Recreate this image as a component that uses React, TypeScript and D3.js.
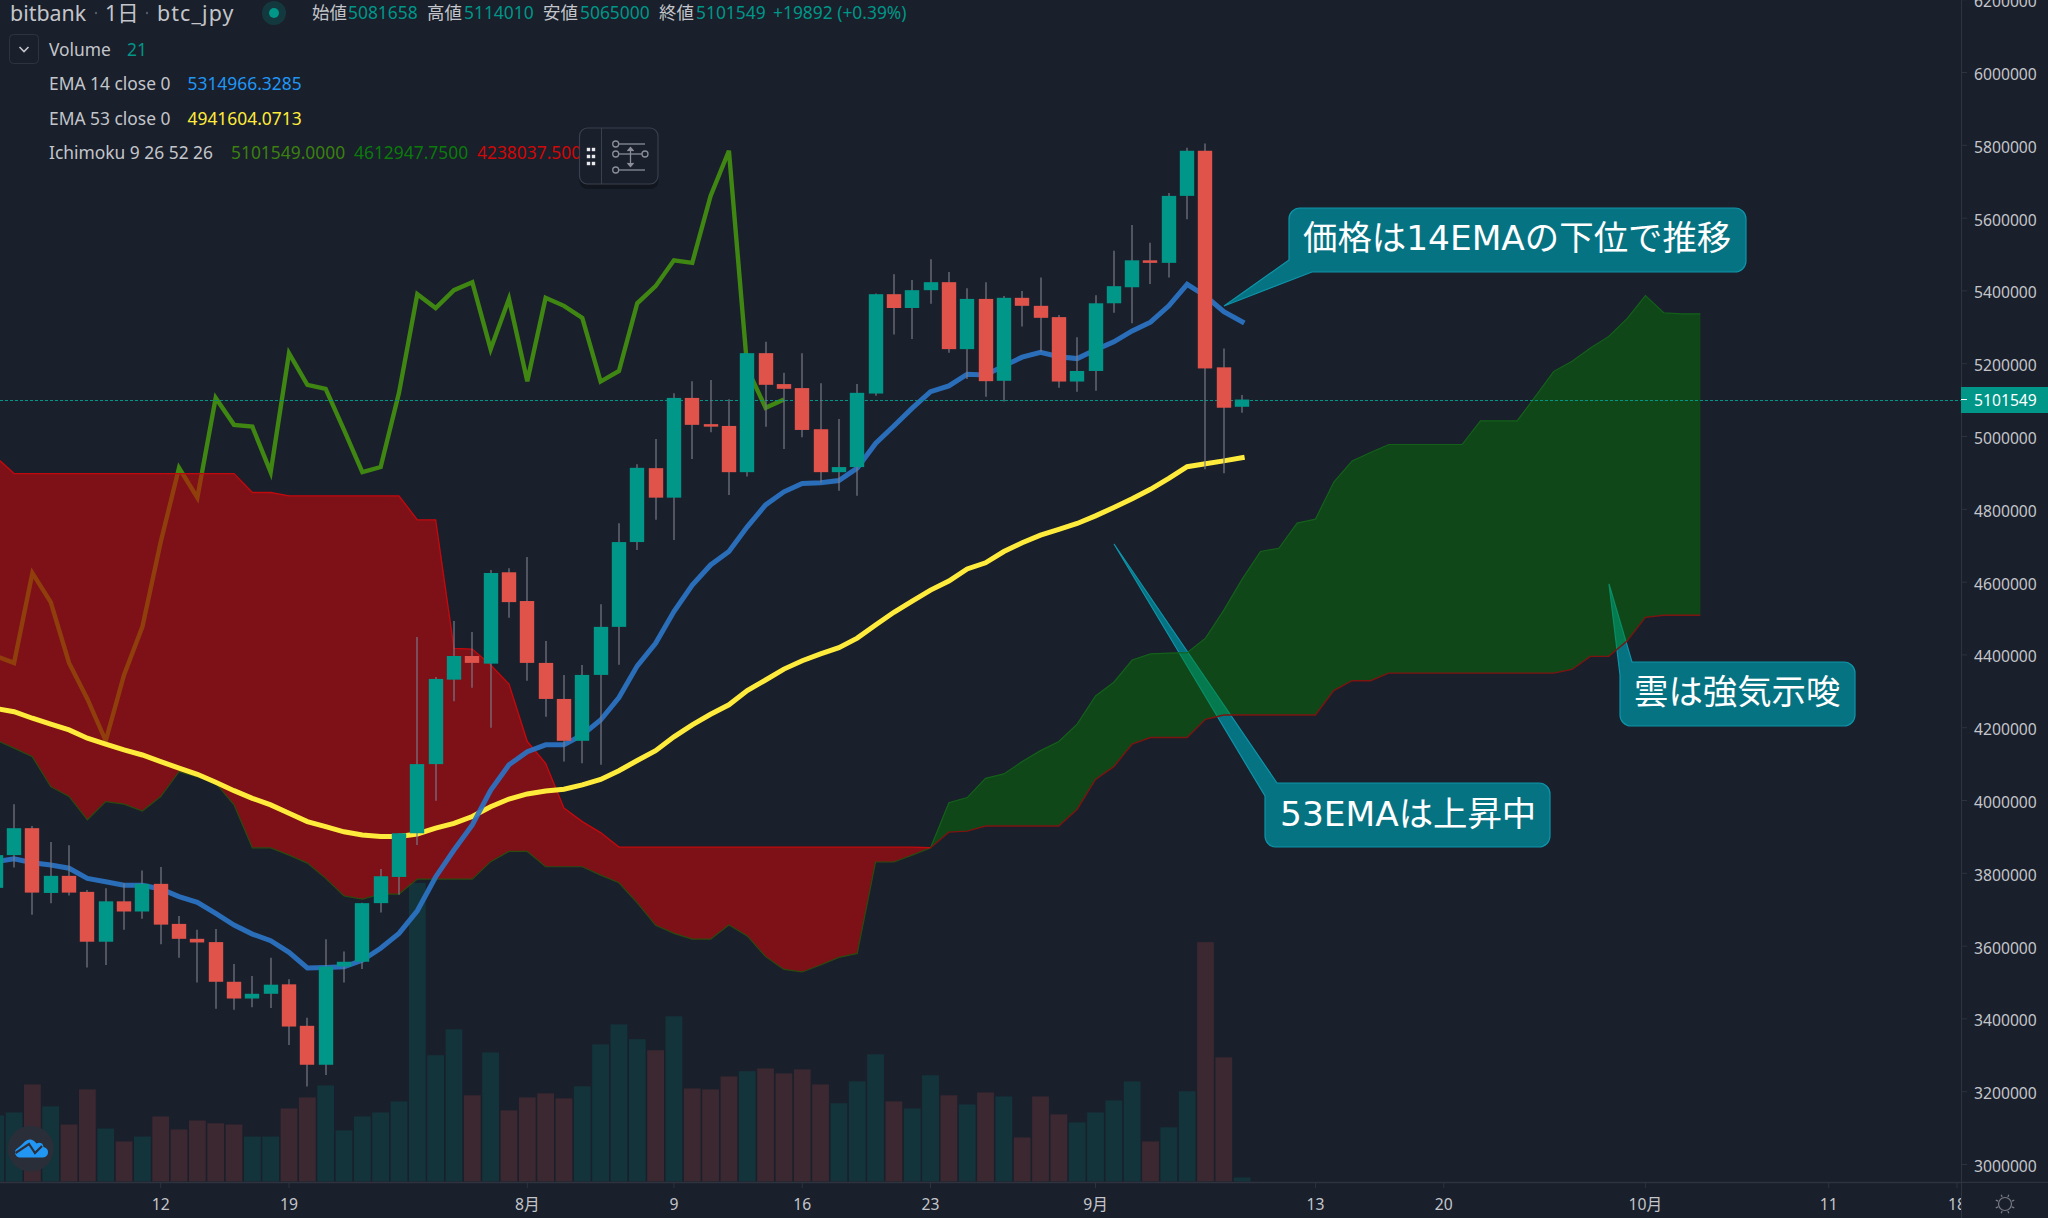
import * as d3 from "d3";

const WIDTH = 2048;
const HEIGHT = 1218;
const AXIS_X = 1961;
const AXIS_Y = 1183;
const BG = "#191f2b";
const UI_FONT = "'Noto Sans', 'Noto Sans CJK JP', sans-serif";
const NOTE_FONT = "'DejaVu Sans', 'Noto Sans CJK JP', sans-serif";

// prices are in thousand JPY, days are counted from 12 Jul 2020
const FIRST_DAY = -9;

const opens = [
  3760, 3850, 3924, 3746, 3793, 3749, 3612, 3723, 3695, 3771, 3661, 3620, 3611, 3502, 3456, 3469, 3495, 3381, 3274,
  3544, 3557, 3718, 3790, 3910, 4100, 4332, 4397, 4376, 4627, 4548, 4378, 4279, 4164, 4345, 4477, 4710, 4913, 4832,
  5106, 5034, 5029, 4902, 5229, 5144, 5133, 5020, 4902, 4916, 5118, 5391, 5353, 5402, 5424, 5240, 5378, 5153, 5381,
  5359, 5328, 5151, 5180, 5366, 5410, 5484, 5477, 5661, 5785, 5190, 5081.658,
];
const highs = [
  3878, 3990, 3930, 3886, 3877, 3754, 3759, 3773, 3808, 3817, 3683, 3645, 3647, 3551, 3518, 3568, 3509, 3403, 3619,
  3585, 3719, 3812, 3911, 4449, 4339, 4493, 4463, 4633, 4638, 4669, 4438, 4345, 4372, 4539, 4762, 4924, 4993, 5119,
  5152, 5155, 5102, 5229, 5260, 5175, 5229, 5146, 5048, 5144, 5393, 5446, 5430, 5487, 5452, 5407, 5424, 5386, 5400,
  5437, 5334, 5273, 5388, 5510, 5581, 5532, 5669, 5793, 5805, 5242, 5114.01,
];
const lows = [
  3741, 3816, 3686, 3718, 3739, 3541, 3548, 3645, 3675, 3605, 3568, 3500, 3428, 3425, 3432, 3430, 3328, 3214, 3246,
  3500, 3537, 3692, 3741, 3878, 3999, 4273, 4310, 4200, 4502, 4329, 4230, 4107, 4102, 4098, 4373, 4688, 4771, 4716,
  4938, 5012, 4839, 4890, 5027, 4966, 4998, 4873, 4851, 4837, 5112, 5280, 5268, 5365, 5230, 5158, 5109, 5096, 5302,
  5233, 5134, 5123, 5126, 5340, 5311, 5419, 5437, 5597, 4910, 4899, 5065,
];
const closes = [
  3850, 3924, 3747, 3793, 3747, 3612, 3723, 3695, 3771, 3659, 3620, 3610, 3502, 3456, 3469, 3494, 3379, 3274, 3544,
  3557, 3718, 3792, 3910, 4100, 4334, 4397, 4378, 4625, 4545, 4378, 4279, 4164, 4345, 4477, 4710, 4914, 4832, 5106,
  5032, 5027, 4902, 5229, 5142, 5131, 5018, 4902, 4916, 5120, 5391, 5353, 5402, 5424, 5240, 5378, 5152, 5381, 5359,
  5326, 5151, 5180, 5366, 5413, 5484, 5477, 5661, 5785, 5187, 5079, 5101.549,
];
const volumes = [
  347, 362, 509, 394, 299, 483, 278, 210, 236, 341, 273, 320, 305, 299, 236, 236, 383, 441, 504, 268, 341, 362, 420,
  1565, 662, 798, 452, 677, 373, 441, 462, 436, 499, 719, 824, 746, 688, 866, 488, 483, 551, 578, 593, 567, 588, 509,
  410, 525, 667, 420, 383, 557, 452, 404, 467, 446, 231, 446, 352, 310, 362, 425, 525, 210, 284, 473, 1255, 651, 21,
];
const ema14 = [
  3832, 3840, 3829, 3823, 3814, 3786, 3777, 3767, 3767, 3757, 3736, 3720, 3690, 3658, 3633, 3615, 3583, 3540, 3541,
  3543, 3561, 3594, 3635, 3697, 3790, 3864, 3933, 4028, 4098, 4134, 4153, 4153, 4180, 4221, 4283, 4370, 4432, 4519,
  4592, 4647, 4684, 4752, 4812, 4848, 4871, 4873, 4879, 4913, 4981, 5029, 5078, 5123, 5139, 5171, 5169, 5194, 5218,
  5231, 5219, 5214, 5238, 5260, 5290, 5314, 5359, 5418, 5386, 5343, 5315,
];
const ema53 = [
  4253, 4244, 4226, 4210, 4194, 4171, 4155, 4139, 4125, 4107, 4089, 4072, 4050, 4027, 4006, 3988, 3965, 3942, 3928,
  3914, 3905, 3901, 3901, 3908, 3924, 3937, 3956, 3983, 4004, 4018, 4026, 4031, 4043, 4058, 4082, 4110, 4137, 4175,
  4208, 4237, 4263, 4302, 4331, 4361, 4384, 4403, 4420, 4446, 4482, 4517, 4548, 4578, 4603, 4636, 4653, 4684, 4708,
  4729, 4745, 4761, 4782, 4805, 4829, 4855, 4885, 4917, 4925, 4933, 4942,
];
// chikou span is the close drawn 25 bars back
const lagging = closes.slice(25);
const spanA = [
  4166, 4144, 4120, 4038, 4011, 3947, 3997, 3990, 3971, 4011, 4079, 4065, 4048, 3988, 3870, 3870, 3850, 3828, 3786,
  3738, 3729, 3743, 3743, 3784, 3784, 3784, 3784, 3832, 3860, 3860, 3818, 3818, 3818, 3795, 3774, 3719, 3657, 3635,
  3619, 3619, 3658, 3628, 3571, 3536, 3529, 3548, 3569, 3580, 3831, 3831, 3850, 3870, 3994, 4008, 4061, 4073, 4107,
  4137, 4162, 4210, 4287, 4325, 4386, 4403, 4405, 4406, 4446, 4523, 4608, 4684, 4693, 4762, 4773, 4875, 4933, 4956,
  4978, 4978, 4978, 4978, 4978, 5043, 5043, 5043, 5110, 5179, 5207, 5243, 5275, 5324, 5387, 5340, 5337, 5337,
];
const spanB = [
  4944, 4898, 4898, 4898, 4898, 4898, 4898, 4898, 4898, 4898, 4898, 4898, 4898, 4898, 4846, 4846, 4837, 4837, 4837,
  4837, 4837, 4837, 4837, 4771, 4771, 4418, 4416, 4372, 4320, 4162, 4102, 3979, 3942, 3912, 3872, 3872, 3872, 3872,
  3872, 3872, 3872, 3872, 3872, 3872, 3872, 3872, 3872, 3872, 3872, 3872, 3872, 3870, 3913, 3916, 3930, 3930, 3930,
  3930, 3930, 3976, 4058, 4093, 4155, 4173, 4173, 4173, 4223, 4235, 4235, 4235, 4235, 4235, 4235, 4302, 4329, 4329,
  4350, 4350, 4350, 4350, 4350, 4350, 4350, 4350, 4350, 4350, 4360, 4396, 4396, 4438, 4503, 4509, 4509, 4509,
];
const CLOUD_CROSS_DAY = 42;

const priceTicks = [
  3000, 3200, 3400, 3600, 3800, 4000, 4200, 4400, 4600, 4800, 5000, 5200, 5400, 5600, 5800, 6000, 6200,
];
const dayTicks = [0, 7, 20, 28, 35, 42, 51, 63, 70, 81, 91, 98];
const dayLabels = ["12", "19", "8月", "9", "16", "23", "9月", "13", "20", "10月", "11", "18"];
const LAST_PRICE = 5101.549;

const x = d3.scaleLinear().domain([0, 98]).range([160.7, 1957]);
const y = d3.scaleLinear().domain([3000, 5000]).range([1164.5, 436.5]);
const yVol = d3.scaleLinear().domain([0, 1565]).range([1181.5, 883]);

const dayOf = (i: number) => i + FIRST_DAY;
const priceLine = d3
  .line<number>()
  .x((_, i) => x(dayOf(i)))
  .y((d) => y(d));

const cloud = spanA.map((a, i) => ({ day: dayOf(i), a, b: spanB[i] }));
const cloudArea = d3
  .area<{ day: number; a: number; b: number }>()
  .x((d) => x(d.day))
  .y0((d) => y(d.a))
  .y1((d) => y(d.b));
const cloudEdge = (key: "a" | "b") =>
  d3
    .line<{ day: number; a: number; b: number }>()
    .x((d) => x(d.day))
    .y((d) => y(d[key]));
const redCloud = cloud.filter((d) => d.day <= CLOUD_CROSS_DAY);
const greenCloud = cloud.filter((d) => d.day >= CLOUD_CROSS_DAY);

// speech bubble: a rounded box with a tail running tip -> a ... c -> tip
function bubble(box: number[], tip: number[], a: number[], c: number[], side: string) {
  const [l, t, r, b] = box;
  const rad = 11;
  const p = d3.path();
  if (side === "top-left") {
    // tail leaves the top left corner
    p.moveTo(a[0], a[1]);
    p.lineTo(r - rad, t);
    p.arcTo(r, t, r, t + rad, rad);
    p.lineTo(r, b - rad);
    p.arcTo(r, b, r - rad, b, rad);
    p.lineTo(l + rad, b);
    p.arcTo(l, b, l, b - rad, rad);
    p.lineTo(c[0], c[1]);
    p.lineTo(tip[0], tip[1]);
    p.closePath();
  } else {
    // tail leaves the bottom left corner
    p.moveTo(l + rad, t);
    p.lineTo(r - rad, t);
    p.arcTo(r, t, r, t + rad, rad);
    p.lineTo(r, b - rad);
    p.arcTo(r, b, r - rad, b, rad);
    p.lineTo(c[0], c[1]);
    p.lineTo(tip[0], tip[1]);
    p.lineTo(a[0], a[1]);
    p.lineTo(l, t + rad);
    p.arcTo(l, t, l + rad, t, rad);
    p.closePath();
  }
  return p.toString();
}

const notes = [
  {
    text: "価格は14EMAの下位で推移",
    textX: 1303,
    textY: 250,
    d: bubble([1289, 208, 1746, 272], [1224, 306], [1289, 260], [1312, 272], "bottom-left"),
  },
  {
    text: "53EMAは上昇中",
    textX: 1280,
    textY: 826,
    d: bubble([1265, 783, 1550, 847], [1114, 544], [1277, 783], [1265, 796], "top-left"),
  },
  {
    text: "雲は強気示唆",
    textX: 1634,
    textY: 704,
    d: bubble([1620, 662, 1855, 726], [1609, 584], [1632, 662], [1620, 675], "top-left"),
  },
];

const Label = ({ x: tx, yc, fill, size = 17.4, spacing = 0, children }: any) => (
  <text x={tx} y={yc} dy="0.35em" fill={fill} fontSize={size} letterSpacing={spacing} fontFamily={UI_FONT}>
    {children}
  </text>
);

export default function App() {
  const lastY = y(LAST_PRICE);
  const GREY = "#c3c5ca";
  const TEAL = "#009688";
  return (
    <svg
      width={WIDTH}
      height={HEIGHT}
      style={{ position: "absolute", left: 0, top: 0, display: "block", background: BG }}
    >
      <defs>
        <clipPath id="pane">
          <rect x={0} y={0} width={AXIS_X} height={AXIS_Y} />
        </clipPath>
        <clipPath id="legendClip">
          <rect x={0} y={0} width={580} height={200} />
        </clipPath>
      </defs>

      <g clipPath="url(#pane)">
        {/* volume */}
        {volumes.map((v, i) => (
          <rect
            key={i}
            x={x(dayOf(i)) - 8.4}
            y={yVol(v)}
            width={16.8}
            height={yVol(0) - yVol(v)}
            fill={closes[i] >= opens[i] ? "#14343c" : "#3b2830"}
          />
        ))}

        {/* lagging span sits under the cloud */}
        <path d={priceLine(lagging) ?? ""} fill="none" stroke="#3f8612" strokeWidth={4.4} strokeLinejoin="miter" />

        {/* callouts are tinted by the cloud where they overlap */}
        {notes.map((n) => (
          <path key={n.text} d={n.d} fill="#067383" stroke="#0e93a8" strokeWidth={1.2} />
        ))}

        {/* cloud */}
        <path d={cloudArea(redCloud) ?? ""} fill="#d10407" fillOpacity={0.55} />
        <path d={cloudArea(greenCloud) ?? ""} fill="#028500" fillOpacity={0.4} />
        <path d={cloudEdge("a")(redCloud) ?? ""} fill="none" stroke="#2a4a10" strokeWidth={1.2} />
        <path d={cloudEdge("b")(redCloud) ?? ""} fill="none" stroke="#c00a0e" strokeWidth={1.4} />
        <path d={cloudEdge("a")(greenCloud) ?? ""} fill="none" stroke="#14601a" strokeWidth={1.2} />
        <path d={cloudEdge("b")(greenCloud) ?? ""} fill="none" stroke="#7c1410" strokeWidth={1.4} />

        {/* EMAs */}
        <path d={priceLine(ema53) ?? ""} fill="none" stroke="#ffeb3b" strokeWidth={5} strokeLinecap="square" />
        <path
          d={priceLine(ema14) ?? ""}
          fill="none"
          stroke="#2b74c6"
          strokeOpacity={0.92}
          strokeWidth={5}
          strokeLinecap="square"
        />

        {/* last price */}
        <line
          x1={0}
          x2={AXIS_X}
          y1={Math.round(lastY) + 0.5}
          y2={Math.round(lastY) + 0.5}
          stroke={TEAL}
          strokeWidth={1}
          strokeDasharray="3 2"
        />

        {/* candles */}
        {closes.map((c, i) => {
          const o = opens[i];
          const cx = Math.round(x(dayOf(i)));
          const up = c >= o;
          const top = y(Math.max(o, c));
          const bottom = y(Math.min(o, c));
          return (
            <g key={i}>
              <line x1={cx} x2={cx} y1={y(highs[i])} y2={y(lows[i])} stroke="#787b86" strokeWidth={1.2} />
              <rect
                x={cx - 7.2}
                y={top}
                width={14.4}
                height={Math.max(bottom - top, 1)}
                fill={up ? TEAL : "#df534b"}
              />
            </g>
          );
        })}
      </g>

      {/* callout text */}
      {notes.map((n) => (
        <text key={n.text} x={n.textX} y={n.textY} fill="#fff" fontSize={34.4} fontFamily={NOTE_FONT}>
          {n.text}
        </text>
      ))}

      {/* price axis */}
      <line x1={AXIS_X + 0.5} x2={AXIS_X + 0.5} y1={0} y2={HEIGHT} stroke="#2e333f" strokeWidth={1} />
      {priceTicks.map((t) => (
        <g key={t}>
          <line x1={AXIS_X} x2={AXIS_X + 6} y1={y(t)} y2={y(t)} stroke="#2e333f" />
          <text x={1974} y={y(t) + 2} dy="0.35em" fill={GREY} fontSize={15.7} fontFamily={UI_FONT}>
            {t * 1000}
          </text>
        </g>
      ))}
      <rect x={AXIS_X} y={387} width={WIDTH - AXIS_X} height={26} fill={TEAL} />
      <line x1={AXIS_X} x2={AXIS_X + 6} y1={lastY} y2={lastY} stroke="#fff" />
      <text x={1974} y={lastY + 1} dy="0.35em" fill="#fff" fontSize={15.7} fontFamily={UI_FONT}>
        {Math.round(LAST_PRICE * 1000)}
      </text>

      {/* time axis */}
      <line x1={0} x2={WIDTH} y1={AXIS_Y - 0.5} y2={AXIS_Y - 0.5} stroke="#2e333f" strokeWidth={1.5} />
      {dayTicks.map((t, i) => (
        <g key={t}>
          <line x1={x(t)} x2={x(t)} y1={AXIS_Y} y2={AXIS_Y + 5} stroke="#2e333f" />
          <text
            x={x(t)}
            y={1205}
            dy="0.35em"
            textAnchor="middle"
            fill={GREY}
            fontSize={15.7}
            fontFamily={UI_FONT}
          >
            {dayLabels[i]}
          </text>
        </g>
      ))}
      <rect x={AXIS_X + 1} y={AXIS_Y} width={WIDTH - AXIS_X} height={HEIGHT - AXIS_Y} fill={BG} />
      <line x1={AXIS_X + 0.5} x2={AXIS_X + 0.5} y1={AXIS_Y} y2={HEIGHT} stroke="#2e333f" />

      {/* settings icon */}
      <g stroke="#787b86" fill="none" strokeWidth={1.2}>
        <circle cx={2005} cy={1204} r={6.5} />
        {d3.range(0, 360, 45).map((a) => (
          <line
            key={a}
            x1={2005 + 7.5 * Math.cos((a * Math.PI) / 180 + Math.PI / 8)}
            y1={1204 + 7.5 * Math.sin((a * Math.PI) / 180 + Math.PI / 8)}
            x2={2005 + 10 * Math.cos((a * Math.PI) / 180 + Math.PI / 8)}
            y2={1204 + 10 * Math.sin((a * Math.PI) / 180 + Math.PI / 8)}
          />
        ))}
      </g>

      {/* legend */}
      <Label x={10} yc={13} fill={GREY} size={21.4}>bitbank</Label>
      <circle cx={96} cy={13} r={1.2} fill="#555a66" />
      <Label x={105} yc={13} fill={GREY} size={21.4}>1日</Label>
      <circle cx={147} cy={13} r={1.2} fill="#555a66" />
      <Label x={157} yc={13} fill={GREY} size={21.4} spacing={1.1}>btc_jpy</Label>
      <circle cx={274} cy={13} r={12} fill={TEAL} fillOpacity={0.22} />
      <circle cx={274} cy={13} r={5} fill={TEAL} />
      <Label x={312} yc={13} fill={GREY}>始値</Label>
      <Label x={348} yc={13} fill={TEAL}>5081658</Label>
      <Label x={427} yc={13} fill={GREY}>高値</Label>
      <Label x={464} yc={13} fill={TEAL}>5114010</Label>
      <Label x={543} yc={13} fill={GREY}>安値</Label>
      <Label x={580} yc={13} fill={TEAL}>5065000</Label>
      <Label x={659} yc={13} fill={GREY}>終値</Label>
      <Label x={696} yc={13} fill={TEAL}>5101549</Label>
      <Label x={773} yc={13} fill={TEAL}>+19892 (+0.39%)</Label>

      <rect x={9.5} y={34.5} width={29} height={29} rx={4} fill="none" stroke="#2e333f" />
      <path d="M19.500 47l4.500 4.500 4.500-4.500" fill="none" stroke={GREY} strokeWidth={1.6} />
      <Label x={49} yc={50} fill={GREY}>Volume</Label>
      <Label x={127} yc={50} fill={TEAL}>21</Label>
      <Label x={49} yc={84} fill={GREY}>EMA 14 close 0</Label>
      <Label x={187.500} yc={84} fill="#2196f3">5314966.3285</Label>
      <Label x={49} yc={118.5} fill={GREY}>EMA 53 close 0</Label>
      <Label x={187.500} yc={118.5} fill="#ffeb3b">4941604.0713</Label>
      <g clipPath="url(#legendClip)">
        <Label x={49} yc={153} fill={GREY}>Ichimoku 9 26 52 26</Label>
        <Label x={231} yc={153} fill="#3b8010">5101549.0000</Label>
        <Label x={354} yc={153} fill="#0b7a0b">4612947.7500</Label>
        <Label x={477} yc={153} fill="#d00808">4238037.5000</Label>
      </g>

      {/* legend control widget */}
      <rect x={579.5} y={132} width={79} height={57} rx={8} fill="#12161f" />
      <rect x={579.5} y={128} width={78.5} height={56} rx={8} fill={BG} stroke="#3a404e" strokeWidth={1.2} />
      <line x1={601.5} x2={601.5} y1={128} y2={184} stroke="#3a404e" />
      {[149.5, 156.5, 163.5].map((dotY) =>
        [588.5, 593.5].map((dotX) => (
          <rect key={`${dotX}-${dotY}`} x={dotX - 1.7} y={dotY - 1.7} width={3.4} height={3.4} fill="#e8e8ea" />
        ))
      )}
      <g stroke="#8a8e99" fill="none" strokeWidth={1.3}>
        <circle cx={615.7} cy={144} r={3} />
        <line x1={619} x2={645} y1={144} y2={144} />
        <circle cx={615.7} cy={154} r={3} />
        <line x1={619} x2={642} y1={154} y2={154} />
        <circle cx={645} cy={154} r={3} />
        <circle cx={615.7} cy={170} r={3} />
        <line x1={619} x2={645} y1={170} y2={170} />
        <line x1={630.5} x2={630.5} y1={148} y2={166} />
        <path d="M627.5 151l3-3.500 3 3.500M627.5 163l3 3.500 3-3.500" fill="#8a8e99" />
      </g>

      {/* logo badge */}
      <circle cx={30.7} cy={1148.7} r={23} fill="#2a2e39" />
      <path
        d="M20 1157.500a5 5 0 0 1-2.500-9.300c1.500-1 4-3 6-5.200 2-2.600 5-4 7.500-3.500 2.500.6 4 2.400 5.500 4 1.500-1 3.500-1.200 5-.2 1.300 1 1.800 2.400 2 3.700a5.200 5.200 0 0 1-1.500 10.500z"
        fill="#2196f3"
      />
      <path d="M15.500 1153l13.500-9 6 9 7-7" fill="none" stroke="#2a2e39" strokeWidth={2.2} />
    </svg>
  );
}
